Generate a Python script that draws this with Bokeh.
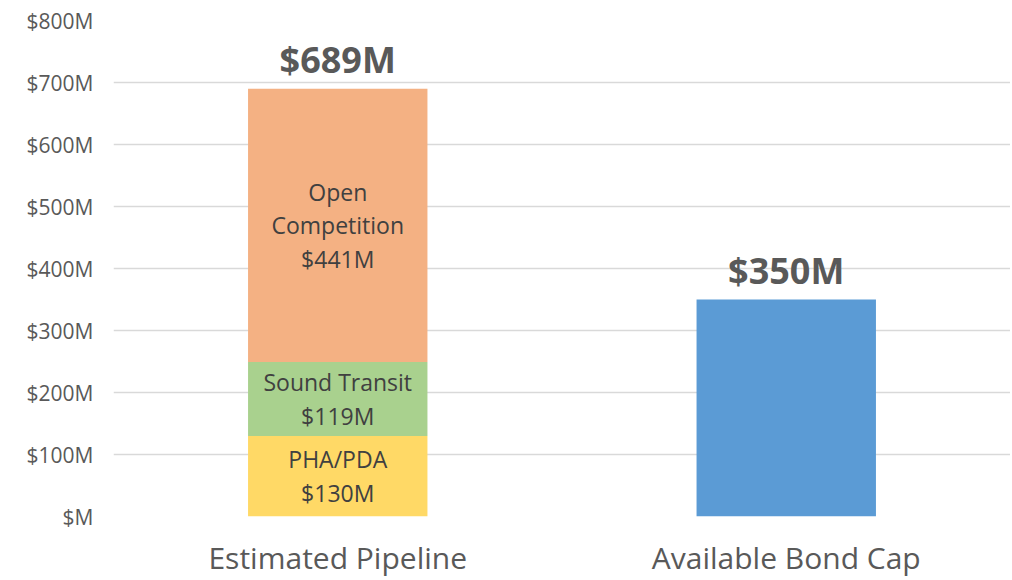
from bokeh.plotting import figure
from bokeh.models import ColumnDataSource, FixedTicker, FactorRange, Range1d
from bokeh.core.properties import value
from bokeh.embed import file_html
from bokeh.resources import INLINE

categories = ["Estimated Pipeline", "Available Bond Cap"]
segments = ["PHA/PDA", "Sound Transit", "Open Competition"]
segment_values = [130, 119, 441]
segment_labels = ["PHA/PDA\n$130M", "Sound Transit\n$119M", "Open\nCompetition\n$441M"]
segment_colors = ["#FFD966", "#A9D18E", "#F4B183"]
bond_cap = 350
bond_color = "#5B9BD5"
total_labels = ["$689M", "$350M"]
y_ticks = [0, 100, 200, 300, 400, 500, 600, 700, 800]
y_tick_labels = ["$M", "$100M", "$200M", "$300M", "$400M", "$500M", "$600M", "$700M", "$800M"]

FONT = "Open Sans"
GREY = "#595959"

p = figure(x_range=FactorRange(*categories, range_padding=0), y_range=Range1d(0, 800),
           width=1010, height=580, output_backend="svg", toolbar_location=None,
           min_border_left=113, min_border_top=20, min_border_right=0, min_border_bottom=55)
p.outline_line_color = None
p.background_fill_color = "white"

# stacked segments
bottoms = []
acc = 0
for v in segment_values:
    bottoms.append(acc)
    acc += v
tops = [b + v for b, v in zip(bottoms, segment_values)]
seg_src = ColumnDataSource(dict(
    x=[categories[0]] * len(segments), bottom=bottoms, top=tops, color=segment_colors,
    mid=[(b + t) / 2 for b, t in zip(bottoms, tops)], label=segment_labels))
p.vbar(x="x", bottom="bottom", top="top", width=0.4, fill_color="color", line_color=None, source=seg_src)
p.text(x="x", y="mid", text="label", source=seg_src, text_align="center", text_baseline="middle",
       text_font=value(FONT), text_font_size="23px", text_color="#404040", text_line_height=1.05)

bond_src = ColumnDataSource(dict(x=[categories[1]], top=[bond_cap]))
p.vbar(x="x", top="top", bottom=0, width=0.4, fill_color=bond_color, line_color=None, source=bond_src)

tot_src = ColumnDataSource(dict(x=categories, y=[tops[-1], bond_cap], label=total_labels))
p.text(x="x", y="y", text="label", source=tot_src, text_align="center", text_baseline="middle",
       y_offset=-29, text_font=value(FONT), text_font_size="36px", text_font_style="bold",
       text_color=GREY)

p.yaxis.ticker = FixedTicker(ticks=y_ticks)
p.yaxis.major_label_overrides = {t: l for t, l in zip(y_ticks, y_tick_labels)}
p.yaxis.axis_line_color = None
p.yaxis.major_tick_line_color = None
p.yaxis.minor_tick_line_color = None
p.yaxis.major_label_standoff = 14
p.yaxis.major_label_text_font = FONT
p.yaxis.major_label_text_font_size = "21px"
p.yaxis.major_label_text_color = GREY

p.xaxis.axis_line_color = None
p.xaxis.major_tick_line_color = None
p.xaxis.major_label_standoff = 14
p.xaxis.major_label_text_font = FONT
p.xaxis.major_label_text_font_size = "30px"
p.xaxis.major_label_text_color = GREY

p.xgrid.grid_line_color = None
p.ygrid.grid_line_color = "#D9D9D9"
p.ygrid.grid_line_width = 1.5

open("out.html", "w").write(file_html(p, INLINE))
